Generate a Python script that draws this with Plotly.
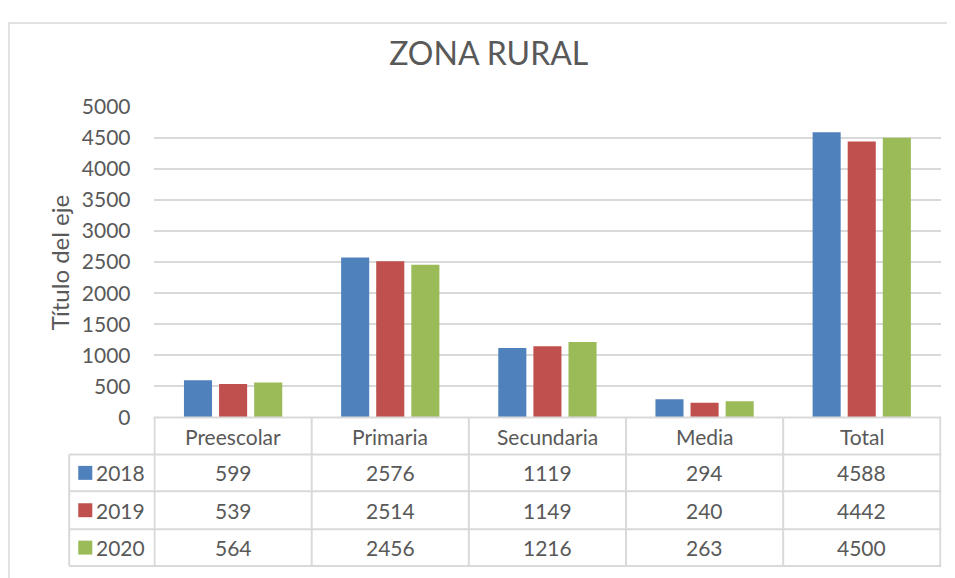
import plotly.graph_objects as go

categories = ["Preescolar", "Primaria", "Secundaria", "Media", "Total"]
years = ["2018", "2019", "2020"]
v2018 = [599, 2576, 1119, 294, 4588]
v2019 = [539, 2514, 1149, 240, 4442]
v2020 = [564, 2456, 1216, 263, 4500]
series = [v2018, v2019, v2020]
colors = ["#4F81BD", "#C0504D", "#9BBB59"]
yticks = [0, 500, 1000, 1500, 2000, 2500, 3000, 3500, 4000, 4500, 5000]

W, H = 955, 578
FONT = "Lato"
TXT = "#595959"
LINE = "#D9D9D9"

# observed placement of the figure's paper in the captured picture
OX, OY, PW, PH = 10.0, 21.0, 951.6, 555.0

def px(x):
    return (x - OX) / PW

def py(y):
    return 1 - (y - OY) / PH

x_left, x_right = 155, 940
y_top, y_bot = 106, 418
rows = [418, 455, 492, 530, 567]

fig = go.Figure()
for name, vals, c in zip(years, series, colors):
    fig.add_trace(go.Bar(x=categories, y=vals, name=name, marker=dict(color=c, line=dict(width=0))))

shapes = []
annotations = []

# outer chart border
shapes.append(dict(type="rect", xref="paper", yref="paper", x0=0.001, x1=1.05, y0=-0.05, y1=0.998,
                   line=dict(color=LINE, width=1.5), fillcolor="rgba(0,0,0,0)", layer="below"))

# table lines
shapes.append(dict(type="line", xref="paper", yref="paper", x0=px(x_left), x1=px(x_right), y0=py(rows[0]), y1=py(rows[0]),
                   line=dict(color=LINE, width=2)))
for r in rows[1:]:
    shapes.append(dict(type="line", xref="paper", yref="paper", x0=px(71), x1=px(x_right), y0=py(r), y1=py(r),
                       line=dict(color=LINE, width=2)))
for i in range(len(categories) + 1):
    shapes.append(dict(type="line", xref="x", yref="paper", x0=i - 0.5, x1=i - 0.5, y0=py(rows[-1]), y1=py(rows[0]),
                       line=dict(color=LINE, width=2)))
shapes.append(dict(type="line", xref="paper", yref="paper", x0=px(71), x1=px(71), y0=py(rows[-1]), y1=py(rows[1]),
                   line=dict(color=LINE, width=2)))

FS = 21
for cat in categories:
    annotations.append(dict(x=cat, xref="x", y=py((rows[0] + rows[1]) / 2), yref="paper", text=cat, showarrow=False,
                            font=dict(family=FONT, size=FS, color=TXT), xanchor="center", yanchor="middle"))
for k, (name, vals, c) in enumerate(zip(years, series, colors)):
    yc = (rows[k + 1] + rows[k + 2]) / 2
    shapes.append(dict(type="rect", xref="paper", yref="paper", x0=px(80), x1=px(94), y0=py(yc + 7), y1=py(yc - 7),
                       line=dict(width=0), fillcolor=c))
    annotations.append(dict(x=px(96), xref="paper", y=py(yc), yref="paper", text=name, showarrow=False,
                            font=dict(family=FONT, size=FS, color=TXT), xanchor="left", yanchor="middle"))
    for cat, v in zip(categories, vals):
        annotations.append(dict(x=cat, xref="x", y=py(yc), yref="paper", text=str(v), showarrow=False,
                                font=dict(family=FONT, size=FS, color=TXT), xanchor="center", yanchor="middle"))

annotations.append(dict(x=px(61), xref="paper", y=py(263), yref="paper", text="Título del eje",
                        textangle=-90, showarrow=False, font=dict(family=FONT, size=24, color=TXT),
                        xanchor="center", yanchor="middle"))

fig.update_layout(
    width=W, height=H,
    margin=dict(l=0, r=0, t=0, b=0),
    paper_bgcolor="white", plot_bgcolor="white",
    title=dict(text="ZONA RURAL", x=px(489), xanchor="center", y=py(65), yanchor="middle",
               font=dict(family=FONT, size=32, color=TXT)),
    showlegend=False,
    barmode="group",
    bargap=0.33,
    bargroupgap=0.2,
    xaxis=dict(domain=[px(x_left), px(x_right)], showticklabels=False, showline=False, showgrid=False,
               ticks="", zeroline=False),
    yaxis=dict(domain=[py(y_bot), py(y_top)], range=[0, 5000], tickvals=yticks, showgrid=True,
               gridcolor=LINE, gridwidth=1.5, zeroline=False, showline=False, ticks="",
               tickfont=dict(family=FONT, size=FS, color=TXT), ticklabelstandoff=22),
    shapes=shapes,
    annotations=annotations,
)

fig.write_html("out.html")
